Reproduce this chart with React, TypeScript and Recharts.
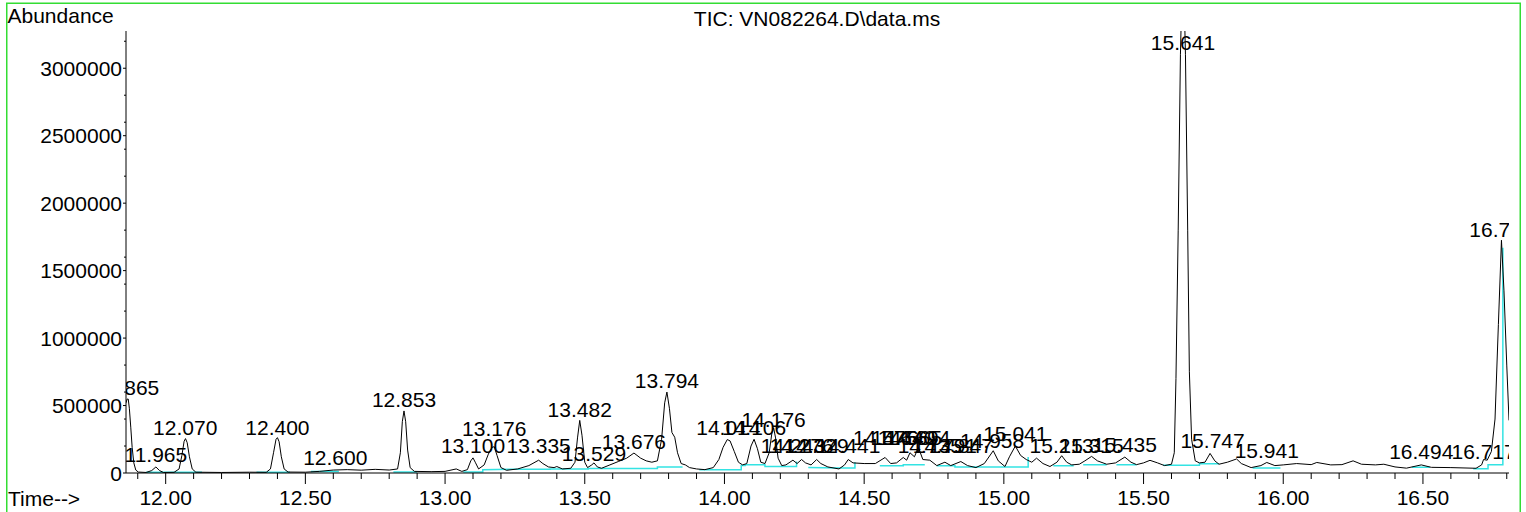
import React from 'react';
import { ComposedChart, Line, Scatter, XAxis, YAxis } from 'recharts';

const FONT = '"Liberation Sans", Arial, Helvetica, sans-serif';
const W = 1526;
const H = 512;

// TIC trace: retention time (min) and abundance
const traceTime = [
  11.858, 11.862, 11.866, 11.87, 11.875, 11.88, 11.886, 11.893, 11.902, 11.93,
  11.95, 11.965, 11.978, 11.992, 12.03, 12.048, 12.058, 12.066, 12.071, 12.077,
  12.085, 12.095, 12.108, 12.2, 12.3, 12.36, 12.375, 12.386, 12.395, 12.4,
  12.406, 12.414, 12.424, 12.438, 12.5, 12.55, 12.6, 12.65, 12.7, 12.75,
  12.8, 12.83, 12.84, 12.847, 12.853, 12.859, 12.866, 12.875, 12.89, 12.95,
  13.0, 13.04, 13.06, 13.08, 13.092, 13.1, 13.108, 13.12, 13.14, 13.155,
  13.168, 13.176, 13.186, 13.2, 13.22, 13.26, 13.3, 13.335, 13.35, 13.37,
  13.39, 13.4, 13.42, 13.45, 13.465, 13.474, 13.482, 13.49, 13.5, 13.51,
  13.525, 13.533, 13.545, 13.56, 13.59, 13.62, 13.65, 13.676, 13.7, 13.72,
  13.74, 13.76, 13.775, 13.786, 13.794, 13.803, 13.812, 13.822, 13.832, 13.845,
  13.86, 13.875, 13.9, 13.93, 13.96, 13.98, 13.995, 14.01, 14.02, 14.035,
  14.05, 14.065, 14.08, 14.095, 14.106, 14.118, 14.13, 14.145, 14.16, 14.17,
  14.176, 14.183, 14.192, 14.205, 14.22, 14.245, 14.26, 14.276, 14.29, 14.31,
  14.33, 14.345, 14.37, 14.41, 14.43, 14.443, 14.46, 14.5, 14.54, 14.575,
  14.595, 14.616, 14.64, 14.652, 14.664, 14.68, 14.694, 14.71, 14.735, 14.76,
  14.789, 14.81, 14.846, 14.87, 14.9, 14.93, 14.962, 14.98, 15.004, 15.02,
  15.041, 15.06, 15.08, 15.1, 15.117, 15.14, 15.165, 15.19, 15.207, 15.225,
  15.243, 15.27, 15.29, 15.314, 15.335, 15.368, 15.4, 15.433, 15.455, 15.475,
  15.5, 15.523, 15.55, 15.575, 15.6, 15.61, 15.616, 15.624, 15.632, 15.641,
  15.65, 15.658, 15.664, 15.672, 15.685, 15.7, 15.72, 15.738, 15.755, 15.77,
  15.8, 15.833, 15.85, 15.885, 15.92, 15.941, 15.97, 16.0, 16.048, 16.1,
  16.12, 16.17, 16.21, 16.25, 16.28, 16.33, 16.36, 16.4, 16.441, 16.494,
  16.53, 16.6, 16.69, 16.71, 16.717, 16.73, 16.745, 16.758, 16.77, 16.781,
  16.79, 16.8, 16.808,
];
const traceAbundance = [
  520000, 548000, 548000, 480000, 340000, 190000, 75000, 22000, 7000, 4000,
  18000, 45000, 18000, 4000, 5000, 30000, 130000, 235000, 255000, 225000,
  120000, 30000, 6000, 4000, 6000, 5000, 30000, 150000, 250000, 262000,
  232000, 120000, 30000, 7000, 6000, 12000, 22000, 25000, 21000, 27000,
  22000, 30000, 150000, 380000, 460000, 380000, 170000, 40000, 12000, 10000,
  12000, 30000, 12000, 25000, 90000, 112000, 80000, 30000, 60000, 140000,
  190000, 195000, 130000, 40000, 20000, 30000, 55000, 95000, 70000, 45000,
  40000, 48000, 30000, 35000, 80000, 260000, 390000, 280000, 80000, 40000,
  60000, 75000, 45000, 35000, 60000, 85000, 110000, 148000, 110000, 90000,
  80000, 90000, 250000, 520000, 600000, 480000, 300000, 265000, 150000, 70000,
  60000, 40000, 30000, 25000, 40000, 100000, 190000, 248000, 238000, 160000,
  80000, 60000, 70000, 200000, 250000, 180000, 80000, 70000, 150000, 300000,
  335000, 260000, 110000, 55000, 60000, 95000, 70000, 100000, 75000, 60000,
  100000, 70000, 45000, 30000, 60000, 100000, 75000, 70000, 70000, 115000,
  70000, 75000, 115000, 95000, 150000, 120000, 190000, 100000, 95000, 55000,
  80000, 55000, 85000, 55000, 40000, 70000, 165000, 90000, 48000, 120000,
  200000, 130000, 100000, 80000, 110000, 70000, 48000, 80000, 128000, 80000,
  60000, 65000, 90000, 123000, 90000, 65000, 75000, 118000, 80000, 62000,
  75000, 94000, 75000, 55000, 65000, 150000, 700000, 1800000, 3100000, 3900000,
  3100000, 1800000, 750000, 250000, 90000, 75000, 80000, 145000, 90000, 65000,
  80000, 104000, 70000, 40000, 55000, 78000, 55000, 60000, 70000, 62000,
  78000, 60000, 62000, 90000, 65000, 60000, 65000, 45000, 36000, 60000,
  42000, 40000, 35000, 60000, 100000, 95000, 160000, 400000, 1100000, 1725000,
  1350000, 800000, 390000,
];

// integration baselines (cyan), each run is a polyline of [time, abundance]
const cyanRuns: [number, number][][] = [
  [[11.93, 5000], [12.13, 5000]],
  [[12.325, 6000], [12.445, 6000]],
  [[12.52, 12000], [12.62, 12000]],
  [[12.815, 8000], [12.9, 8000]],
  [[13.065, 8000], [13.135, 8000], [13.135, 25000], [13.25, 28000], [13.376, 28000], [13.376, 30000],
   [13.513, 30000], [13.513, 33000], [13.76, 33000], [13.76, 45000], [13.85, 45000]],
  [[13.91, 25000], [14.06, 25000], [14.06, 55000], [14.074, 55000], [14.074, 62000], [14.145, 62000],
   [14.145, 49000], [14.258, 49000], [14.258, 85000]],
  [[14.3, 40000], [14.41, 37000], [14.467, 37000], [14.467, 80000]],
  [[14.556, 54000], [14.64, 54000], [14.64, 62000], [14.717, 62000]],
  [[14.76, 54000], [14.825, 54000], [14.825, 44000], [15.087, 44000], [15.087, 118000]],
  [[15.177, 54000], [15.25, 54000]],
  [[15.284, 62000], [15.368, 62000]],
  [[15.403, 62000], [15.475, 62000]],
  [[15.57, 57000], [15.7, 57000], [15.7, 69000], [15.77, 69000]],
  [[15.89, 37000], [15.99, 37000]],
  [[16.46, 42000], [16.525, 42000]],
  [[16.68, 32000], [16.733, 32000], [16.733, 62000], [16.786, 62000], [16.786, 1670000]],
];

// peak labels: time, text, abundance level of the label baseline
const peakTimes = [
  11.865, 11.965, 12.07, 12.4, 12.607, 12.853, 13.1, 13.176, 13.335, 13.482,
  13.533, 13.676, 13.794, 14.014, 14.106, 14.176, 14.245, 14.276, 14.33, 14.443,
  14.575, 14.64, 14.664, 14.694, 14.735, 14.789, 14.846, 14.958, 15.041, 15.207,
  15.314, 15.433, 15.641, 15.747, 15.941, 16.494, 16.717, 16.781,
];
const peakTexts = [
  '11.865', '11.965', '12.070', '12.400', '12.600', '12.853', '13.100', '13.176', '13.335', '13.482',
  '13.529', '13.676', '13.794', '14.014', '14.106', '14.176', '14.243', '14.276', '14.329', '14.441',
  '14.575', '14.640', '14.665', '14.694', '14.735', '14.791', '14.847', '14.958', '15.041', '15.213',
  '15.315', '15.435', '15.641', '15.747', '15.941', '16.494', '16.717', '16.784',
];
const peakLevels = [
  578000, 84000, 282000, 282000, 59000, 491000, 146000, 276000, 146000, 417000,
  91000, 176000, 628000, 282000, 282000, 343000, 146000, 146000, 146000, 146000,
  207000, 207000, 207000, 207000, 146000, 146000, 146000, 185000, 237000, 150000,
  150000, 158000, 3135000, 183000, 109000, 102000, 102000, 1749000,
];

const xMajorTicks = [12.0, 12.5, 13.0, 13.5, 14.0, 14.5, 15.0, 15.5, 16.0, 16.5];
const xMinorTicks = [
  11.9, 12.1, 12.2, 12.3, 12.4, 12.6, 12.7, 12.8, 12.9, 13.1, 13.2, 13.3, 13.4,
  13.6, 13.7, 13.8, 13.9, 14.1, 14.2, 14.3, 14.4, 14.6, 14.7, 14.8, 14.9, 15.1,
  15.2, 15.3, 15.4, 15.6, 15.7, 15.8, 15.9, 16.1, 16.2, 16.3, 16.4, 16.6, 16.7, 16.8,
];
const yMajorTicks = [0, 500000, 1000000, 1500000, 2000000, 2500000, 3000000];
const yMinorTicks = [
  200000, 400000, 600000, 800000, 1200000, 1400000, 1600000, 1800000,
  2200000, 2400000, 2600000, 2800000, 3200000,
];

const trace = traceTime.map((t, i) => ({ t, v: traceAbundance[i] }));
const cyan: { t: number; v: number | null }[] = [];
cyanRuns.forEach((run) => {
  run.forEach(([t, v]) => cyan.push({ t, v }));
  cyan.push({ t: run[run.length - 1][0], v: null });
});
const peaks = peakTimes.map((t, i) => ({ t, v: peakLevels[i], text: peakTexts[i] }));

const xTicks = [...xMajorTicks, ...xMinorTicks].sort((a, b) => a - b);
const yTicks = [...yMajorTicks, ...yMinorTicks].sort((a, b) => a - b);

const XTick = (props: any) => {
  const { x, y, payload } = props;
  const major = xMajorTicks.includes(payload.value);
  return (
    <g>
      <line x1={x} y1={y} x2={x} y2={y + (major ? 11 : 6)} stroke="#000" strokeWidth={1} />
      {major && (
        <text x={x} y={y + 32} textAnchor="middle" fontSize={21} fontFamily={FONT} fill="#000">
          {payload.value.toFixed(2)}
        </text>
      )}
    </g>
  );
};

const YTick = (props: any) => {
  const { x, y, payload } = props;
  const major = yMajorTicks.includes(payload.value);
  return (
    <g>
      <line x1={x - (major ? 3 : 2)} y1={y} x2={x} y2={y} stroke="#000" strokeWidth={1} />
      {major && (
        <text x={x - 4} y={y + 7.5} textAnchor="end" fontSize={21} fontFamily={FONT} fill="#000">
          {payload.value}
        </text>
      )}
    </g>
  );
};

const PeakLabel = (props: any) => {
  const { cx, cy, payload } = props;
  return (
    <text x={cx} y={cy} textAnchor="middle" fontSize={21} fontFamily={FONT} fill="#000">
      {payload.text}
    </text>
  );
};

export default function App() {
  return (
    <div style={{ position: 'absolute', left: 0, top: 0, width: W, height: H, background: '#fff', overflow: 'hidden' }}>
      <ComposedChart width={W} height={H} margin={{ top: 31, right: 17, bottom: 0, left: 0 }}>
        <XAxis
          type="number"
          dataKey="t"
          domain={[11.858, 16.808]}
          allowDataOverflow
          ticks={xTicks}
          interval={0}
          tick={(p: any) => <XTick {...p} />}
          tickLine={false}
          tickSize={0}
          tickMargin={0}
          height={39}
          axisLine={{ stroke: '#000', strokeWidth: 1 }}
        />
        <YAxis
          type="number"
          domain={[0, 3276000]}
          allowDataOverflow
          ticks={yTicks}
          interval={0}
          tick={(p: any) => <YTick {...p} />}
          tickLine={false}
          tickSize={0}
          tickMargin={0}
          width={126}
          axisLine={{ stroke: '#000', strokeWidth: 1 }}
        />
        <Line data={cyan} dataKey="v" type="linear" stroke="#33e3e3" strokeWidth={1.5} dot={false} connectNulls={false} isAnimationActive={false} />
        <Line data={trace} dataKey="v" type="linear" stroke="#000" strokeWidth={1} dot={false} isAnimationActive={false} />
        <Scatter data={peaks} dataKey="v" shape={(p: any) => <PeakLabel {...p} />} isAnimationActive={false} />
      </ComposedChart>
      <svg width={W} height={H} style={{ position: 'absolute', left: 0, top: 0, pointerEvents: 'none' }}>
        <rect x={6.75} y={3.25} width={1513.5} height={600} fill="none" stroke="#33dd33" strokeWidth={1.5} />
        <text x={7.5} y={23} fontSize={21} fontFamily={FONT} fill="#000">Abundance</text>
        <text x={817} y={26} textAnchor="middle" fontSize={21} fontFamily={FONT} fill="#000">TIC: VN082264.D\data.ms</text>
        <text x={8} y={506} fontSize={21} fontFamily={FONT} fill="#000">Time--&gt;</text>
      </svg>
    </div>
  );
}
